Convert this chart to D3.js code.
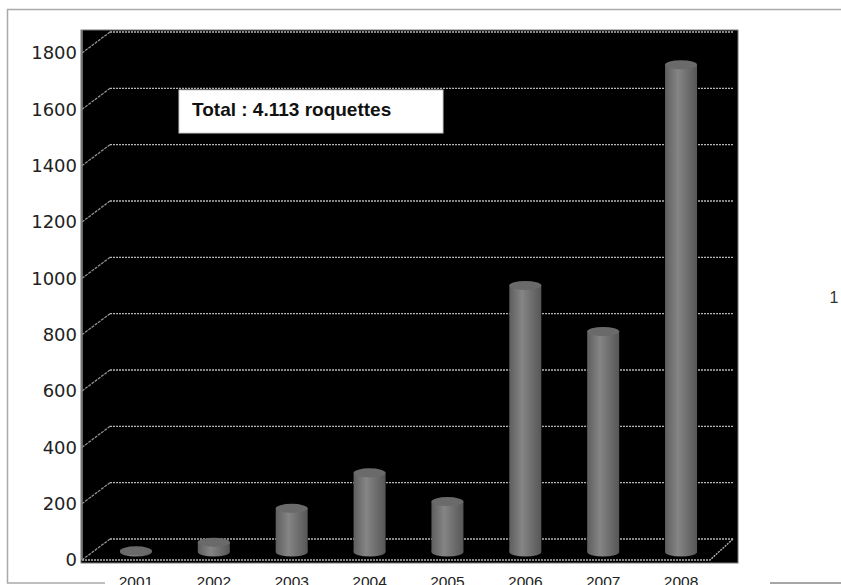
<!DOCTYPE html>
<html>
<head>
<meta charset="utf-8">
<script src="https://cdn.jsdelivr.net/npm/d3@7"></script>
<style>
  body { margin: 0; background: #fff; }
  svg { display: block; font-family: "Liberation Sans", Arial, sans-serif; }
</style>
</head>
<body>
<svg id="chart" width="841" height="585"></svg>
<script>
// data
var years = ['2001', '2002', '2003', '2004', '2005', '2006', '2007', '2008'];
var rockets = [4, 35, 155, 281, 179, 946, 783, 1730];
var yTicks = [0, 200, 400, 600, 800, 1000, 1200, 1400, 1600, 1800];
var totalLabel = 'Total : 4.113 roquettes';

var svg = d3.select('#chart');

// depth offset of the back wall
var dx = 28, dy = -21;

var x = d3.scaleBand().domain(years).range([97, 720]);
var y = d3.scaleLinear().domain([0, 1800]).range([560, 53]);

// outer frame
svg.append('path')
  .attr('d', 'M105,583 H7.5 V9.5 H841')
  .attr('fill', 'none').attr('stroke', '#aaa').attr('stroke-width', 1.5);
svg.append('line')
  .attr('x1', 770).attr('x2', 841).attr('y1', 583).attr('y2', 583)
  .attr('stroke', '#888').attr('stroke-width', 1.5);

// black plot background
svg.append('rect')
  .attr('x', 81).attr('y', 30).attr('width', 657).attr('height', 533)
  .attr('fill', '#000').attr('stroke', '#777').attr('stroke-width', 1);

// gridlines on back wall + diagonal ticks
var grid = svg.append('g').attr('class', 'grid');
yTicks.forEach(function(t) {
  grid.append('line')
    .attr('x1', 82 + dx).attr('x2', 733)
    .attr('y1', y(t) + dy).attr('y2', y(t) + dy)
    .attr('stroke', '#b5b5b5').attr('stroke-width', 1.4)
    .attr('stroke-dasharray', '2,1');
  grid.append('line')
    .attr('x1', 82).attr('x2', 82 + dx)
    .attr('y1', y(t)).attr('y2', y(t) + dy)
    .attr('stroke', '#999').attr('stroke-width', 1.2)
    .attr('stroke-dasharray', '3,1');
});

// floor front edge
svg.append('path')
  .attr('d', 'M82,' + y(0) + ' H710 L733,' + (y(0) + dy))
  .attr('fill', 'none').attr('stroke', '#b5b5b5').attr('stroke-width', 1.4)
  .attr('stroke-dasharray', '2,1');

// y axis line
svg.append('line')
  .attr('x1', 82).attr('x2', 82).attr('y1', 30).attr('y2', 560)
  .attr('stroke', '#888').attr('stroke-width', 1.5);

// y labels
svg.append('g').selectAll('text')
  .data(yTicks).enter().append('text')
  .attr('x', 77).attr('y', function(d) { return y(d); })
  .attr('dy', '0.36em').attr('text-anchor', 'end')
  .attr('font-family', '"DejaVu Sans", sans-serif')
  .attr('font-size', 18).attr('fill', '#222')
  .text(function(d) { return d; });

// x labels
svg.append('g').selectAll('text')
  .data(years).enter().append('text')
  .attr('x', function(d) { return x(d) + x.bandwidth() / 2; })
  .attr('y', 587).attr('text-anchor', 'middle')
  .attr('font-size', 15.5).attr('fill', '#222')
  .text(function(d) { return d; });

// cylinder gradient
var defs = svg.append('defs');
var grad = defs.append('linearGradient').attr('id', 'cyl')
  .attr('x1', '0%').attr('x2', '100%');
grad.append('stop').attr('offset', '0%').attr('stop-color', '#5e5e5e');
grad.append('stop').attr('offset', '40%').attr('stop-color', '#858585');
grad.append('stop').attr('offset', '100%').attr('stop-color', '#565656');

// bars as cylinders
var bw = 32, ry = 4.5, shift = -8;
var bars = svg.append('g').attr('class', 'bars').selectAll('g')
  .data(years).enter().append('g');

bars.each(function(d, i) {
  var g = d3.select(this);
  var cx = x(d) + x.bandwidth() / 2;
  var yb = y(0) + shift;
  var yt = y(rockets[i]) + shift;
  g.append('ellipse')
    .attr('cx', cx).attr('cy', yb).attr('rx', bw / 2).attr('ry', ry)
    .attr('fill', 'url(#cyl)');
  g.append('rect')
    .attr('x', cx - bw / 2).attr('y', yt).attr('width', bw).attr('height', yb - yt)
    .attr('fill', 'url(#cyl)');
  g.append('ellipse')
    .attr('cx', cx).attr('cy', yt).attr('rx', bw / 2).attr('ry', ry)
    .attr('fill', '#6a6a6a');
});

// total box
svg.append('rect')
  .attr('x', 179).attr('y', 90).attr('width', 264).attr('height', 43)
  .attr('fill', '#fff').attr('stroke', '#ccc');
svg.append('text')
  .attr('x', 192).attr('y', 116)
  .attr('font-size', 19).attr('font-weight', 'bold').attr('fill', '#111')
  .text(totalLabel);

// stray "1" on the right
svg.append('text')
  .attr('x', 834).attr('y', 303).attr('text-anchor', 'middle')
  .attr('font-size', 16).attr('fill', '#333')
  .text('1');
</script>
</body>
</html>
